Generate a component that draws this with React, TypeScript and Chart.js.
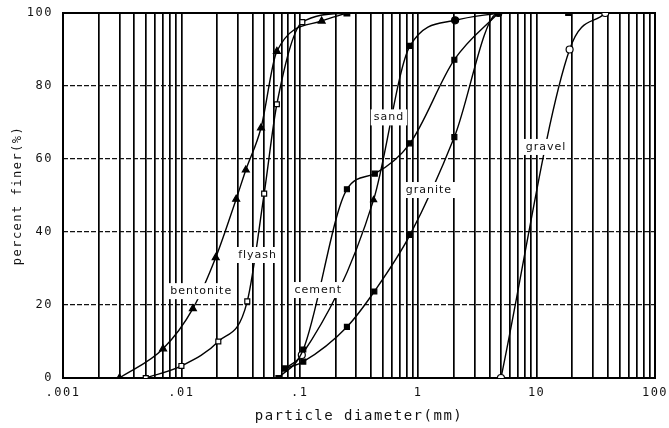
import React, { useEffect, useRef } from 'react';
import { Chart, registerables } from 'chart.js';

Chart.register(...registerables);

// ---- tick labels ----
const xTickLabels = ['.001', '.01', '.1', '1', '10', '100'];
const xDecadeExponents = [-3, -2, -1, 0, 1, 2];
const yTickStep = 20;

// ---- series values (particle diameter in mm, percent finer) ----
const bentoniteX = [0.003, 0.007, 0.0125, 0.0195, 0.029, 0.035, 0.047, 0.064, 0.153, 0.25];
const bentoniteY = [0, 8, 19, 33, 49, 57, 68.5, 89.5, 97.8, 100];

const flyashX = [0.005, 0.01, 0.0205, 0.036, 0.05, 0.064, 0.105, 0.25];
const flyashY = [0, 3.3, 10, 21, 50.5, 75, 97.5, 100];

const cementX = [0.066, 0.107, 0.25, 0.43, 0.853, 2.02, 4.75];
const cementY = [0, 7.8, 51.7, 56, 64.3, 87.2, 100];

const sandX = [0.075, 0.104, 0.42, 0.853, 2.05, 4.75];
const sandY = [2.6, 6.3, 48.8, 91, 98, 100];

const graniteX = [0.075, 0.107, 0.25, 0.426, 0.853, 2.02, 4.75, 18.5];
const graniteY = [2.6, 4.5, 14, 23.7, 39.2, 66, 100, 100];

const gravelX = [5, 19, 38];
const gravelY = [0, 90, 100];

// ---- in-plot curve labels (anchored in data units) ----
const curveLabels = ['bentonite', 'flyash', 'cement', 'sand', 'granite', 'gravel'];
const curveLabelX = [0.0147, 0.044, 0.143, 0.566, 1.23, 12.0];
const curveLabelY = [23.8, 33.7, 24.1, 71.4, 51.5, 63.3];

const AXIS_FONT = '"DejaVu Sans Mono", monospace';
const LABEL_FONT = '"DejaVu Sans", sans-serif';
const SPACING = '1.5px';

function pts(xs: number[], ys: number[]) {
  return xs.map((x, i) => ({ x, y: ys[i] }));
}

function series(label: string, xs: number[], ys: number[], pointStyle: any, bg: any, radius: any) {
  return {
    label,
    data: pts(xs, ys),
    showLine: true,
    borderColor: '#000',
    borderWidth: 1.4,
    cubicInterpolationMode: 'monotone' as const,
    pointStyle,
    pointRadius: radius,
    pointBackgroundColor: bg,
    pointBorderColor: '#000',
    pointBorderWidth: 1.2,
  };
}

const spacingPlugin = {
  id: 'letterSpacing',
  beforeInit(chart: any) { chart.ctx.letterSpacing = SPACING; },
  beforeUpdate(chart: any) { chart.ctx.letterSpacing = SPACING; },
  beforeDraw(chart: any) { chart.ctx.letterSpacing = SPACING; },
};

const framePlugin = {
  id: 'frame',
  beforeDatasetsDraw(chart: any) {
    const { ctx, chartArea } = chart;
    ctx.save();
    ctx.strokeStyle = '#000';
    ctx.lineWidth = 2;
    ctx.setLineDash([]);
    ctx.strokeRect(chartArea.left, chartArea.top, chartArea.right - chartArea.left, chartArea.bottom - chartArea.top);
    ctx.restore();
  },
};

const labelPlugin = {
  id: 'curveLabels',
  afterDatasetsDraw(chart: any) {
    const { ctx } = chart;
    const xs = chart.scales.x;
    const ys = chart.scales.y;
    ctx.save();
    ctx.letterSpacing = '1px';
    ctx.font = `11px ${LABEL_FONT}`;
    ctx.textAlign = 'center';
    ctx.textBaseline = 'middle';
    curveLabels.forEach((t, i) => {
      const px = xs.getPixelForValue(curveLabelX[i]);
      const py = ys.getPixelForValue(curveLabelY[i]);
      const w = ctx.measureText(t).width;
      ctx.fillStyle = '#fff';
      ctx.fillRect(px - w / 2 - 3, py - 8, w + 6, 16);
      ctx.fillStyle = '#111';
      ctx.fillText(t, px, py);
    });
    ctx.restore();
  },
};

export default function App() {
  const ref = useRef<HTMLCanvasElement | null>(null);

  useEffect(() => {
    if (!ref.current) return;
    const chart = new Chart(ref.current, {
      type: 'scatter',
      data: {
        datasets: [
          series('bentonite', bentoniteX, bentoniteY,
            bentoniteX.map((_, i) => (i === bentoniteX.length - 1 ? 'rect' : 'triangle')), '#000', 4),
          series('flyash', flyashX, flyashY, 'rect', '#fff', 3.5),
          series('cement', cementX, cementY, 'rect', '#000', 3.5),
          series('sand', sandX, sandY,
            ['rect', 'circle', 'triangle', 'rect', 'circle', 'circle'],
            ['#000', '#fff', '#000', '#000', '#000', '#000'], 3.5),
          series('granite', graniteX, graniteY, 'rect', '#000', 3.5),
          series('gravel', gravelX, gravelY, 'circle', '#fff', 3.5),
        ],
      },
      options: {
        responsive: false,
        animation: false,
        events: [],
        layout: { padding: { top: 13, right: 14, left: 0, bottom: 0 } },
        plugins: {
          legend: { display: false },
          tooltip: { enabled: false },
        },
        scales: {
          x: {
            type: 'logarithmic',
            min: 0.001,
            max: 100,
            afterBuildTicks(scale: any) {
              const ticks: { value: number }[] = [];
              xDecadeExponents.forEach((e) => {
                if (e === xDecadeExponents[xDecadeExponents.length - 1]) {
                  ticks.push({ value: Math.pow(10, e) });
                } else {
                  for (let m = 1; m <= 9; m++) ticks.push({ value: +(m * Math.pow(10, e)).toPrecision(6) });
                }
              });
              scale.ticks = ticks;
            },
            afterFit(scale: any) {
              scale.height = 50;
              scale.paddingLeft = 0;
              scale.paddingRight = 0;
            },
            ticks: {
              autoSkip: false,
              maxRotation: 0,
              padding: 8,
              color: '#111',
              font: { family: AXIS_FONT, size: 12 },
              callback(value: any) {
                const v = Number(value);
                const e = Math.round(Math.log10(v));
                if (Math.abs(v - Math.pow(10, e)) / v < 1e-6) {
                  const idx = xDecadeExponents.indexOf(e);
                  return idx >= 0 ? xTickLabels[idx] : '';
                }
                return '';
              },
            },
            grid: { color: '#000', lineWidth: 1.7, drawTicks: false },
            border: { display: false },
            title: {
              display: true,
              text: 'particle diameter(mm)',
              color: '#111',
              font: { family: AXIS_FONT, size: 14 },
              padding: { top: 0, bottom: 3 },
            },
          },
          y: {
            type: 'linear',
            min: 0,
            max: 100,
            afterFit(scale: any) {
              scale.width = 63;
              scale.paddingTop = 0;
              scale.paddingBottom = 0;
            },
            ticks: {
              stepSize: yTickStep,
              padding: 10,
              color: '#111',
              font: { family: AXIS_FONT, size: 12 },
            },
            grid: { color: '#111', lineWidth: 1.2, drawTicks: false },
            border: { display: false, dash: [5, 2] },
            title: {
              display: true,
              text: 'percent finer(%)',
              color: '#111',
              font: { family: AXIS_FONT, size: 12 },
              padding: { top: 11, bottom: 0 },
            },
          },
        },
      } as any,
      plugins: [spacingPlugin, framePlugin, labelPlugin],
    });
    return () => chart.destroy();
  }, []);

  return (
    <div style={{ position: 'fixed', left: 0, top: 0, width: 669, height: 428, background: '#fff' }}>
      <canvas ref={ref} width={669} height={428} />
    </div>
  );
}
